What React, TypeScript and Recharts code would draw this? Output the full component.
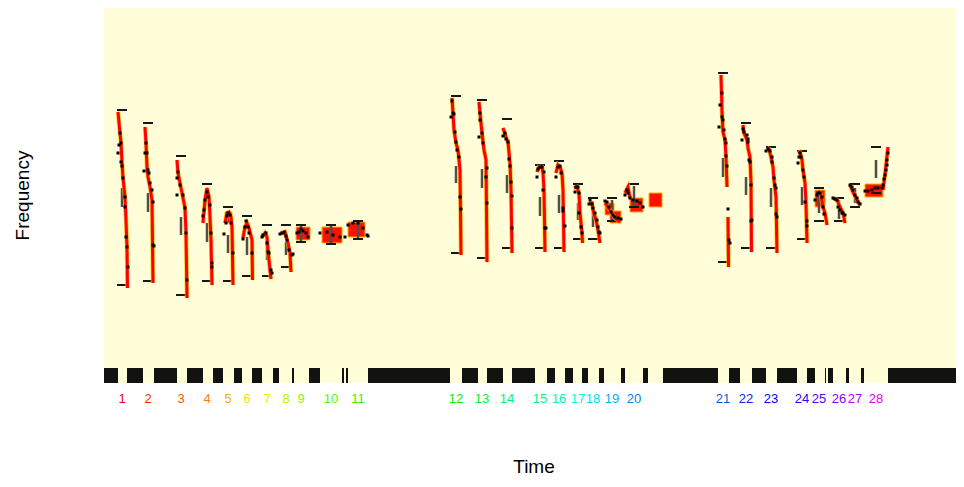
import {
  CartesianGrid,
  ComposedChart,
  Line,
  ReferenceArea,
  ReferenceLine,
  Scatter,
  XAxis,
  YAxis,
} from 'recharts';

type P = [number, number | null];

// syllable centre times (frames) and frequency summaries (arbitrary units)
const syllableTime = [18, 44, 77, 103, 124, 143, 163, 182, 197, 227, 254, 352, 378, 403, 436, 455, 474, 489, 508, 530, 619, 642, 667, 698, 715, 735, 751, 772];
const rangeTop = [273, 260, 227, 199, 176, 167, 158, 158, 158, 158, 162, 287, 283, 264, 218, 222, 199, 185, 185, 199, 310, 260, 236, 232, 195, 185, 199, 236];
const rangeBottom = [98, 102, 88, 102, 102, 107, 107, 116, 141, 139, 144, 130, 125, 135, 135, 135, 144, 144, 162, 176, 121, 135, 135, 144, 162, 162, 176, 190];
const sdTop = [195, 190, 166, 160, 148, 146, 140, 141, 158, 158, 160, 217, 214, 208, 186, 188, 180, 176, 183, 197, 225, 206, 195, 196, 190, 183, 195, 223];
const sdBottom = [176, 171, 148, 141, 130, 128, 123, 128, 141, 139, 144, 200, 195, 190, 167, 170, 163, 156, 163, 176, 206, 188, 176, 178, 170, 164, 180, 205];

const tracks: P[][] = [
  [[14, 271], [16, 250], [17, 240], [18, 221], [19, 205], [21, 186], [22, 163], [23, 136], [23.5, 95]],
  [[41, 256], [42, 240], [43, 216], [44, 206], [46, 196], [48, 183], [49, 100]],
  [[73, 223], [74, 210], [76, 200], [78, 190], [81, 175], [82, 150], [83, 85]],
  [[99, 160], [101, 183], [103, 195], [105, 186], [106, 166], [107, 143], [108, 98]],
  [[121, 160], [123, 170], [125, 171], [127, 166], [128, 156], [129, 98]],
  [[139, 145], [141, 156], [143, 160], [145, 155], [148, 143], [148.5, 103]],
  [[158, 146], [161, 150], [163, 146], [164, 133], [166, 113], [167, 104]],
  [[176, 150], [179, 150], [181, 151], [184, 140], [186, 130], [187, 111]],
  [],
  [],
  [],
  [[348, 285], [349, 270], [350, 253], [352, 240], [354, 233], [356, 213], [357, 128]],
  [[375, 281], [376, 270], [378, 250], [380, 233], [382, 223], [383, 121]],
  [[399, 255], [402, 246], [404, 241], [406, 220], [407, 193], [408, 130]],
  [[433, 211], [435, 216], [438, 216], [439, 210], [440, 193], [441, 131]],
  [[452, 210], [454, 218], [456, 216], [458, 210], [459, 193], [460, 131]],
  [[470, 195], [473, 196], [475, 190], [476, 170], [478, 150], [478.5, 140]],
  [[485, 180], [488, 180], [489, 173], [492, 163], [494, 153], [496, 140]],
  [[501, 180], [506, 173], [511, 165], [516, 161]],
  [[521, 190], [524, 196], [526, 185]],
  [[617, 308], [617.5, 290], [618, 270], [619, 251], [621, 243], [622, 226], [623, 196], [623.5, null], [624, 166], [624.5, 116]],
  [[639, 258], [640, 250], [643, 243], [644, 235], [646, 226], [647, 200], [647.5, 131]],
  [[663, 235], [665, 234], [667, 226], [669, 216], [670, 203], [672, 186], [673, 130]],
  [[694, 230], [696, 231], [698, 223], [699, 213], [701, 200], [702, 180], [703, 140]],
  [[713, 190], [715, 191], [717, 188], [719, 176], [721, 170], [723, 158]],
  [[729, 185], [733, 183], [736, 176], [739, 170], [741, 160]],
  [[746, 198], [749, 191], [753, 183], [756, 178]],
  [[779, 193], [781, 208], [782, 218], [784, 236]],
];

const frames: P[][] = [
  [[16, 250], [17, 240], [15, 238], [14, 230], [17, 221], [18, 217], [19, 205], [21, 186], [21, 176], [22, 146], [23, 136], [24, 116]],
  [[42, 240], [43, 230], [41, 230], [40, 212], [44, 213], [45, 210], [46, 200], [48, 193], [49, 181], [49, 138], [50, 137]],
  [[74, 211], [73, 205], [76, 198], [73, 188], [79, 188], [81, 175], [82, 150], [83, 103]],
  [[99, 167], [100, 173], [101, 183], [103, 191], [104, 186], [106, 178], [107, 150], [108, 120], [108, 116]],
  [[120, 149], [122, 160], [123, 167], [124, 170], [126, 168], [127, 160], [129, 130]],
  [[139, 144], [141, 156], [142, 162], [144, 156], [145, 150], [148, 130]],
  [[158, 146], [159, 148], [162, 150], [163, 140], [164, 131], [165, 130], [167, 113], [168, 110]],
  [[176, 149], [179, 150], [180, 151], [182, 147], [183, 143], [185, 133], [188, 128], [189, 129]],
  [[193, 150], [195, 151], [197, 154], [199, 152], [202, 150], [204, 146]],
  [[216, 150], [223, 151], [229, 148], [236, 146], [241, 146]],
  [[244, 158], [249, 160], [254, 160], [259, 155], [263, 148], [264, 147]],
  [[348, 282], [347, 266], [349, 270], [350, 269], [351, 251], [352, 241], [353, 233], [355, 226], [356, 186], [357, 174]],
  [[376, 270], [376, 263], [375, 246], [378, 250], [379, 240], [383, 215], [382, 206], [383, 180]],
  [[399, 247], [401, 250], [402, 244], [404, 241], [405, 224], [406, 217], [407, 201], [408, 187], [408, 155]],
  [[433, 206], [434, 214], [436, 216], [438, 216], [440, 211], [439, 193], [441, 155], [442, 155]],
  [[452, 206], [454, 216], [456, 217], [457, 210], [459, 175], [459, 172], [461, 157]],
  [[471, 191], [472, 196], [474, 196], [475, 190], [475, 170], [477, 156], [478, 150]],
  [[486, 183], [485, 179], [488, 179], [489, 175], [491, 170], [493, 163], [494, 156], [495, 151], [496, 150]],
  [[501, 182], [503, 181], [505, 176], [507, 171], [509, 168], [511, 166], [514, 165], [517, 164]],
  [[521, 188], [523, 193], [524, 190], [526, 185], [529, 183], [533, 182], [536, 180], [539, 176]],
  [[618, 290], [616, 278], [618, 266], [619, 263], [615, 256], [620, 253], [621, 244], [622, 240], [622, 227], [623, 217], [624, 174], [625, 143], [626, 140]],
  [[639, 254], [640, 251], [643, 248], [644, 244], [638, 243], [644, 241], [645, 223], [646, 221], [647, 198], [648, 163], [647, 162]],
  [[662, 232], [664, 234], [666, 232], [668, 226], [668, 221], [670, 205], [671, 198], [672, 195], [672, 169], [673, 166]],
  [[696, 230], [697, 226], [695, 226], [694, 220], [699, 213], [700, 206], [701, 181], [703, 162], [703, 157]],
  [[711, 183], [713, 188], [714, 190], [716, 190], [718, 186], [719, 176], [720, 169]],
  [[729, 185], [731, 184], [733, 183], [734, 176], [736, 173], [738, 170], [739, 170], [741, 168]],
  [[746, 198], [748, 196], [749, 193], [751, 188], [753, 185], [754, 181], [756, 179]],
  [[761, 192], [764, 192], [768, 193], [771, 195], [774, 195], [778, 195], [779, 198], [780, 204], [781, 208], [782, 213], [783, 218], [783, 223], [784, 230]],
];

// dense frame clusters: [t start, t end, f low, f high]
const clusters = [
  [121, 128, 160, 171],
  [192, 206, 143, 156],
  [218, 238, 140, 156],
  [244, 261, 146, 161],
  [501, 510, 168, 180],
  [506, 517, 160, 172],
  [526, 539, 171, 185],
  [545, 558, 176, 190],
  [711, 721, 176, 193],
  [761, 779, 186, 199],
];

// sound segments along the time axis
const soundBands = [
  [0, 14], [23, 39], [50, 73], [83, 99], [109, 119], [130, 138], [148, 158], [169, 175],
  [188, 190], [205, 216], [238, 240], [242, 244], [264, 346], [358, 374], [383, 399], [408, 431],
  [443, 451], [461, 469], [478, 484], [495, 500], [517, 521], [539, 544], [559, 614], [625, 636],
  [648, 662], [673, 693], [703, 711], [721, 722], [724, 729], [742, 745], [757, 760], [784, 860],
];

const FONT = '"Liberation Sans", Arial, sans-serif';
const labelColor = (i: number) => `hsl(${(i * 360) / 33}, 100%, 48%)`;

const SyllableTick = (props: any) => {
  const { x, y, payload } = props;
  const i = syllableTime.indexOf(payload.value);
  return (
    <text x={x} y={y + 12} textAnchor="middle" fontSize={13} fontFamily={FONT} fill={labelColor(i)}>
      {i + 1}
    </text>
  );
};

const AxisTitle = (props: any) => {
  const vb = props.viewBox || {};
  if (props.vertical) {
    const x = (vb.x ?? 0) + 14;
    const y = (vb.y ?? 0) + (vb.height ?? 375) / 2;
    return (
      <text x={x} y={y} transform={`rotate(-90, ${x}, ${y})`} textAnchor="middle" dominantBaseline="central" fontSize={19} fontFamily={FONT} fill="#000">
        {props.text}
      </text>
    );
  }
  const x = (vb.x ?? 96) + (vb.width ?? 860) / 2;
  const y = (vb.y ?? 375) + (vb.height ?? 30) + 60;
  return (
    <text x={x} y={y} textAnchor="middle" fontSize={19} fontFamily={FONT} fill="#000">
      {props.text}
    </text>
  );
};

const Square = (props: any) => (
  <rect x={props.cx - 1.5} y={props.cy - 1.5} width={3} height={3} fill="#000" />
);

const App = () => {
  const dotData = frames.flatMap((d) => d.map(([t, f]) => ({ t, f })));
  return (
    <div style={{ width: 956, height: 471 }}>
      <ComposedChart width={956} height={471} margin={{ top: 0, right: 0, bottom: 66, left: 0 }}>
        <CartesianGrid horizontal={false} vertical={false} fill="#FFFED8" stroke="none" />
        <XAxis
          type="number"
          dataKey="t"
          domain={[0, 860]}
          ticks={syllableTime}
          interval={0}
          tick={<SyllableTick />}
          axisLine={false}
          tickLine={false}
          height={30}
          label={<AxisTitle text="Time" />}
        />
        <YAxis
          type="number"
          dataKey="f"
          domain={[0, 375]}
          width={96}
          tick={false}
          axisLine={false}
          tickLine={false}
          label={<AxisTitle text="Frequency" vertical />}
        />
        {soundBands.map(([a, b], i) => (
          <ReferenceArea key={`band${i}`} x1={a} x2={b} y1={0} y2={15} fill="#121210" fillOpacity={1} stroke="none" />
        ))}
        {clusters.map(([a, b, lo, hi], i) => (
          <ReferenceArea key={`cl${i}`} x1={a} x2={b} y1={lo} y2={hi} fill="#FF1000" fillOpacity={1} stroke="#FFB000" strokeWidth={1} />
        ))}
        {syllableTime.map((t, i) => (
          <ReferenceLine key={`sd${i}`} segment={[{ x: t, y: sdBottom[i] }, { x: t, y: sdTop[i] }]} stroke="#4f4f45" strokeWidth={2.5} />
        ))}
        {syllableTime.map((t, i) => (
          <ReferenceLine key={`top${i}`} segment={[{ x: t - 5, y: rangeTop[i] }, { x: t + 5, y: rangeTop[i] }]} stroke="#161616" strokeWidth={2} />
        ))}
        {syllableTime.map((t, i) => (
          <ReferenceLine key={`bot${i}`} segment={[{ x: t - 5, y: rangeBottom[i] }, { x: t + 5, y: rangeBottom[i] }]} stroke="#161616" strokeWidth={2} />
        ))}
        {tracks.map((tr, i) =>
          tr.length ? (
            <Line
              key={`halo${i}`}
              data={tr.map(([t, f]) => ({ t, f }))}
              dataKey="f"
              stroke="#FFB800"
              strokeOpacity={0.75}
              strokeWidth={4.5}
              dot={false}
              activeDot={false}
              isAnimationActive={false}
            />
          ) : null
        )}
        {tracks.map((tr, i) =>
          tr.length ? (
            <Line
              key={`track${i}`}
              data={tr.map(([t, f]) => ({ t, f }))}
              dataKey="f"
              stroke="#FF0000"
              strokeWidth={3}
              dot={false}
              activeDot={false}
              isAnimationActive={false}
            />
          ) : null
        )}
        <Scatter data={dotData} dataKey="f" shape={<Square />} isAnimationActive={false} />
      </ComposedChart>
    </div>
  );
};

export default App;
